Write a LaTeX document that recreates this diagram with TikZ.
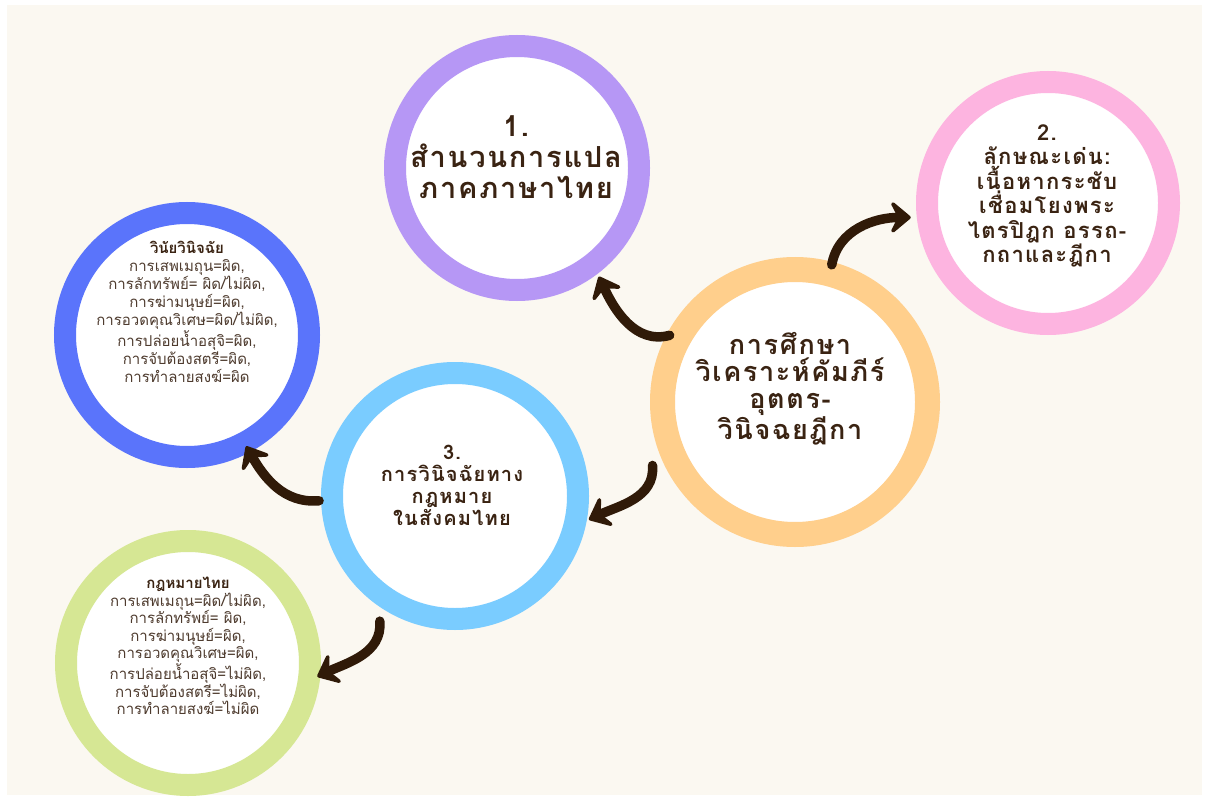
\documentclass[tikz,border=0pt]{standalone}
\usepackage{fontspec}
\setmainfont[Script=Thai]{Loma}
\newfontfamily\thaisp[Script=Thai, LetterSpace=6]{Loma}
\usetikzlibrary{arrows.meta,calc}
\definecolor{cream}{HTML}{FBF8F1}
\definecolor{purp}{HTML}{B697F5}
\definecolor{pinkc}{HTML}{FDB4E0}
\definecolor{orangec}{HTML}{FFCF8C}
\definecolor{bluec}{HTML}{5A74FB}
\definecolor{lblue}{HTML}{7ACCFF}
\definecolor{greenc}{HTML}{D6E794}
\definecolor{ink}{HTML}{3A2312}
\definecolor{inksoft}{HTML}{4E3B2E}
\definecolor{arrowc}{HTML}{301A08}
\tikzset{
  ring/.style={circle, fill=white, inner sep=0pt},
  bigtxt/.style={align=center, text=ink, font=\thaisp\bfseries\fontsize{29}{31}\selectfont},
  midtxt/.style={align=center, text=ink, font=\thaisp\bfseries\fontsize{22}{24.5}\selectfont},
  smalltxt/.style={align=center, text=inksoft, font=\fontsize{15}{18}\selectfont},
  brush/.style={draw=arrowc, line width=9.5pt, line cap=round,
    -{Stealth[length=24pt, width=40pt, inset=10pt, round]}}
}
\begin{document}
\begin{tikzpicture}[x=1pt,y=-1pt]
\useasboundingbox (0,0) rectangle (1205,797);
\fill[white] (0,0) rectangle (1205,797);
\fill[cream] (7,5) rectangle (1202,795);
% circles
\node[ring, draw=purp, line width=22pt, minimum size=244pt] (c1) at (517,168) {};
\node[ring, draw=pinkc, line width=22pt, minimum size=242pt] (c2) at (1048,203) {};
\node[ring, draw=orangec, line width=25pt, minimum size=265pt] (co) at (795,402) {};
\node[ring, draw=bluec, line width=22pt, minimum size=244pt] (cb) at (187,335) {};
\node[ring, draw=lblue, line width=22pt, minimum size=246pt] (c3) at (455,496) {};
\node[ring, draw=greenc, line width=22pt, minimum size=244pt] (cg) at (188,663) {};
% texts
\node[bigtxt] (t1) at (516,157) {1.\\สำนวนการแปล\\ภาคภาษาไทย};
\node[midtxt] (t2) at (1047,196) {2.\\ลักษณะเด่น:\\เนื้อหากระชับ\\เชื่อมโยงพระ\\ไตรปิฎก อรรถ-\\กถาและฎีกา};
\node[bigtxt, font=\thaisp\bfseries\fontsize{27}{27}\selectfont] (tc) at (790,389) {การศึกษา\\วิเคราะห์คัมภีร์\\อุตตร-\\วินิจฉยฎีกา};
\node[midtxt, font=\thaisp\bfseries\fontsize{20}{22}\selectfont] (t3) at (452,485) {3.\\การวินิจฉัยทาง\\กฎหมาย\\ในสังคมไทย};
\node[smalltxt] (tb) at (187,312) {{\bfseries\color{ink}วินัยวินิจฉัย}\\การเสพเมถุน=ผิด,\\การลักทรัพย์= ผิด/ไม่ผิด,\\การฆ่ามนุษย์=ผิด,\\การอวดคุณวิเศษ=ผิด/ไม่ผิด,\\การปล่อยน้ำอสุจิ=ผิด,\\การจับต้องสตรี=ผิด,\\การทำลายสงฆ์=ผิด};
\node[smalltxt, font=\fontsize{15}{17.5}\selectfont] (tg) at (188,646) {{\bfseries\color{ink}กฎหมายไทย}\\การเสพเมถุน=ผิด/ไม่ผิด,\\การลักทรัพย์= ผิด,\\การฆ่ามนุษย์=ผิด,\\การอวดคุณวิเศษ=ผิด,\\การปล่อยน้ำอสุจิ=ไม่ผิด,\\การจับต้องสตรี=ไม่ผิด,\\การทำลายสงฆ์=ไม่ผิด};
% arrows (polar angles negated because y points down)
\draw[brush] ($(co.center)+(-152:142)$) to[out=195, in=-65] ($(c1.center)+(53:136)$);
\draw[brush] ($(co.center)+(-75:142)$) to[out=80, in=180] ($(c2.center)+(-186:138)$);
\draw[brush] ($(c3.center)+(-182:136)$) to[out=185, in=-60] ($(cb.center)+(62:126)$);
\draw[brush] ($(co.center)+(-204:156)$) to[out=-85, in=25] ($(c3.center)+(10:136)$);
\draw[brush] ($(c3.center)+(-239:146)$) to[out=-85, in=25] ($(cg.center)+(6:130)$);
\end{tikzpicture}
\end{document}
